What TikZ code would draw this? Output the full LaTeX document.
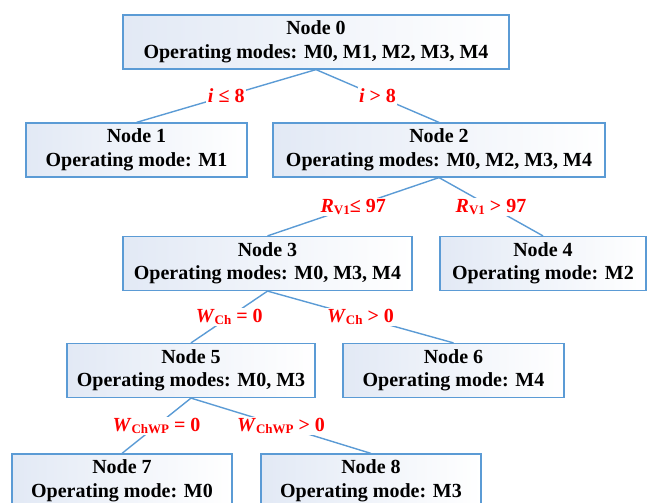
\documentclass[tikz,border=0pt]{standalone}
\usepackage{fontspec}
\setmainfont{Liberation Serif}
\definecolor{edgeblue}{RGB}{91,155,213}
\definecolor{boxfill}{RGB}{226,233,245}
\newcommand{\sbx}[1]{\raisebox{-1.5pt}{\fontsize{13}{13}\selectfont #1}}
\begin{document}
\begin{tikzpicture}[x=1pt,y=-1pt,
  box/.style={draw=edgeblue, line width=1.2pt, left color=boxfill, right color=white,
    minimum height=54pt, inner sep=0pt, align=center,
    font=\fontsize{20}{23.5}\selectfont\bfseries},
  conn/.style={draw=edgeblue, line width=1.4pt},
  cond/.style={fill=white, text=red, inner sep=1.5pt,
    font=\fontsize{20}{22}\selectfont\bfseries}]
\useasboundingbox (0,0) rectangle (649,503);
\clip (0,0) rectangle (649,503);
\node[box, minimum width=386pt] (n0) at (316,42) {Node 0\\Operating modes: M0, M1, M2, M3, M4};
\node[box, minimum width=221pt] (n1) at (136.5,150) {Node 1\\Operating mode: M1};
\node[box, minimum width=332pt] (n2) at (439,150) {Node 2\\Operating modes: M0, M2, M3, M4};
\node[box, minimum width=289pt] (n3) at (267.5,263.5) {Node 3\\Operating modes: M0, M3, M4};
\node[box, minimum width=206pt] (n4) at (543,263.5) {Node 4\\Operating mode: M2};
\node[box, minimum width=248pt] (n5) at (191,370.5) {Node 5\\Operating modes: M0, M3};
\node[box, minimum width=221pt] (n6) at (453.5,370.5) {Node 6\\Operating mode: M4};
\node[box, minimum width=220pt] (n7) at (122,481) {Node 7\\Operating mode: M0};
\node[box, minimum width=220pt] (n8) at (371,481) {Node 8\\Operating mode: M3};
\draw[conn] (n0.south) -- node[cond] (c01) {\textit{i} ≤ 8} (n1.north);
\draw[conn] (n0.south) -- node[cond] (c02) {\textit{i} > 8} (n2.north);
\draw[conn] (n2.south) -- node[cond] (c23) {\textit{R}\sbx{V1}≤ 97} (n3.north);
\draw[conn] (n2.south) -- node[cond] (c24) {\textit{R}\sbx{V1} > 97} (n4.north);
\draw[conn] (n3.south) -- node[cond] (c35) {\textit{W}\sbx{Ch} = 0} (n5.north);
\draw[conn] (n3.south) -- node[cond] (c36) {\textit{W}\sbx{Ch} > 0} (n6.north);
\draw[conn] (n5.south) -- node[cond] (c57) {\textit{W}\sbx{ChWP} = 0} (n7.north);
\draw[conn] (n5.south) -- node[cond] (c58) {\textit{W}\sbx{ChWP} > 0} (n8.north);
\end{tikzpicture}
\end{document}
